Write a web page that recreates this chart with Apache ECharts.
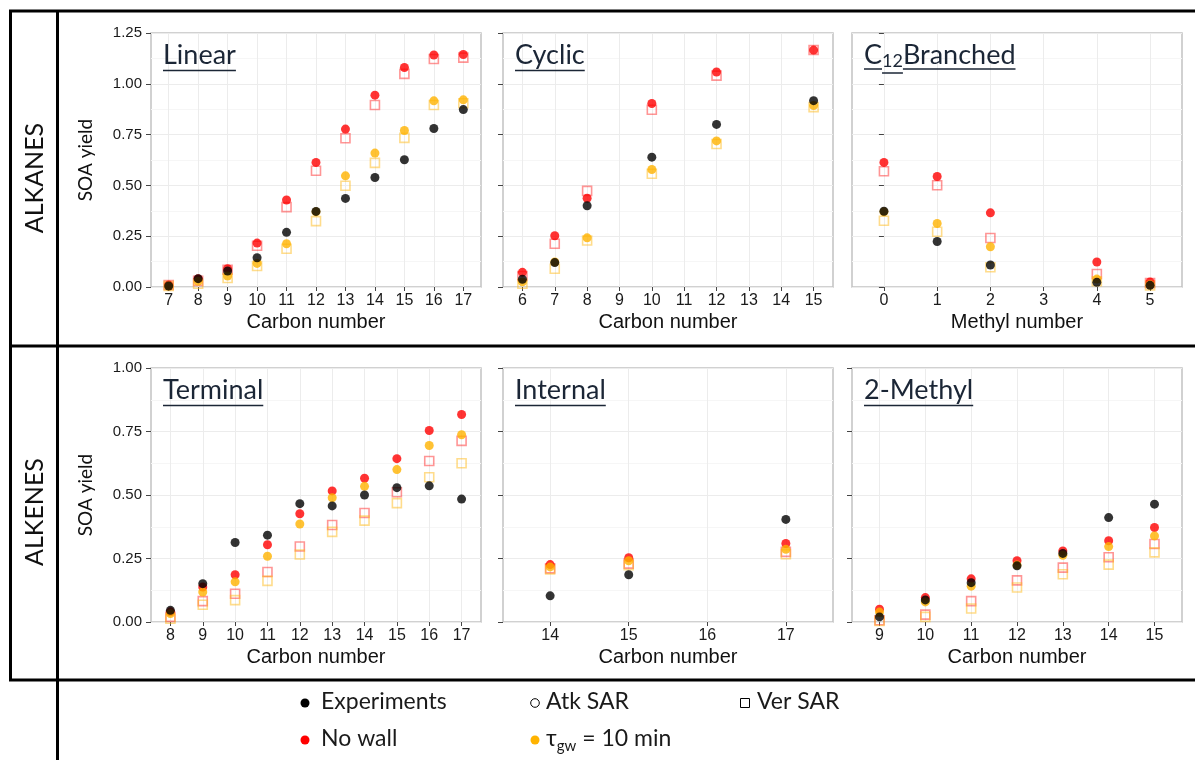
<!DOCTYPE html>
<html><head><meta charset="utf-8">
<script src="https://cdn.jsdelivr.net/npm/echarts@6/dist/echarts.min.js"></script>
<style>html,body{margin:0;padding:0;background:#fff}#c{width:1195px;height:760px}</style>
</head><body><div id="c"></div>
<script>
// ---------- tick labels ----------
const linearTicks   = [7, 8, 9, 10, 11, 12, 13, 14, 15, 16, 17];
const cyclicTicks   = [6, 7, 8, 9, 10, 11, 12, 13, 14, 15];
const branchedTicks = [0, 1, 2, 3, 4, 5];
const terminalTicks = [8, 9, 10, 11, 12, 13, 14, 15, 16, 17];
const internalTicks = [14, 15, 16, 17];
const methylTicks   = [9, 10, 11, 12, 13, 14, 15];
const alkaneYMax = 1.25;
const alkeneYMax = 1.00;
const yStep = 0.25;

// ---------- ALKANES: Linear ----------
const linearX          = [7, 8, 9, 10, 11, 12, 13, 14, 15, 16, 17];
const linearExp        = [0.005, 0.041, 0.079, 0.144, 0.269, 0.372, 0.436, 0.539, 0.626, 0.780, 0.873];
const linearNoWallAtk  = [0.010, 0.040, 0.090, 0.216, 0.428, 0.613, 0.777, 0.944, 1.080, 1.142, 1.144];
const linearNoWallVer  = [0.010, 0.030, 0.085, 0.203, 0.393, 0.572, 0.732, 0.896, 1.049, 1.122, 1.129];
const linearTauAtk     = [0.005, 0.028, 0.054, 0.116, 0.213, 0.370, 0.547, 0.659, 0.770, 0.916, 0.921];
const linearTauVer     = [0.005, 0.016, 0.044, 0.103, 0.188, 0.324, 0.498, 0.611, 0.734, 0.896, 0.904];

// ---------- ALKANES: Cyclic ----------
const cyclicX          = [6, 7, 8, 10, 12, 15];
const cyclicExp        = [0.038, 0.120, 0.400, 0.639, 0.800, 0.917];
const cyclicNoWallAtk  = [0.072, 0.252, 0.437, 0.903, 1.058, 1.166];
const cyclicNoWallVer  = [0.054, 0.213, 0.473, 0.872, 1.040, 1.166];
const cyclicTauAtk     = [0.025, 0.123, 0.242, 0.578, 0.719, 0.893];
const cyclicTauVer     = [0.016, 0.090, 0.229, 0.557, 0.704, 0.885];

// ---------- ALKANES: C12 Branched ----------
const branchedX         = [0, 1, 2, 4, 5];
const branchedExp       = [0.373, 0.224, 0.108, 0.023, 0.008];
const branchedNoWallAtk = [0.613, 0.544, 0.365, 0.123, 0.025];
const branchedNoWallVer = [0.570, 0.501, 0.241, 0.064, 0.020];
const branchedTauAtk    = [0.370, 0.313, 0.198, 0.039, 0.011];
const branchedTauVer    = [0.326, 0.272, 0.097, 0.028, 0.008];

// ---------- ALKENES: Terminal ----------
const terminalX         = [8, 9, 10, 11, 12, 13, 14, 15, 16, 17];
const terminalExp       = [0.046, 0.151, 0.313, 0.342, 0.466, 0.457, 0.500, 0.529, 0.536, 0.484];
const terminalNoWallAtk = [0.040, 0.138, 0.186, 0.304, 0.426, 0.516, 0.566, 0.643, 0.754, 0.817];
const terminalNoWallVer = [0.020, 0.082, 0.111, 0.197, 0.297, 0.382, 0.429, 0.511, 0.634, 0.713];
const terminalTauAtk    = [0.033, 0.118, 0.158, 0.259, 0.386, 0.489, 0.534, 0.600, 0.695, 0.737];
const terminalTauVer    = [0.013, 0.068, 0.086, 0.162, 0.266, 0.355, 0.399, 0.468, 0.570, 0.625];

// ---------- ALKENES: Internal ----------
const internalX         = [14, 15, 17];
const internalExp       = [0.103, 0.186, 0.404];
const internalNoWallAtk = [0.226, 0.253, 0.309];
const internalNoWallVer = [0.211, 0.230, 0.276];
const internalTauAtk    = [0.217, 0.241, 0.286];
const internalTauVer    = [0.207, 0.224, 0.267];

// ---------- ALKENES: 2-Methyl ----------
const methylX           = [9, 10, 11, 12, 13, 14, 15];
const methylExp         = [0.020, 0.087, 0.155, 0.221, 0.270, 0.411, 0.464];
const methylNoWallAtk   = [0.050, 0.096, 0.170, 0.241, 0.280, 0.320, 0.372];
const methylNoWallVer   = [0.007, 0.029, 0.082, 0.164, 0.214, 0.255, 0.307];
const methylTauAtk      = [0.039, 0.079, 0.141, 0.224, 0.263, 0.297, 0.339];
const methylTauVer      = [0.004, 0.020, 0.053, 0.136, 0.188, 0.226, 0.274];

// ---------- panels ----------
const panels = [
  {title: 'Linear',   ticks: linearTicks,   x: linearX,   exp: linearExp,   nwA: linearNoWallAtk,   nwV: linearNoWallVer,   tA: linearTauAtk,   tV: linearTauVer,   row: 0, col: 0, xname: 'Carbon number'},
  {title: 'Cyclic',   ticks: cyclicTicks,   x: cyclicX,   exp: cyclicExp,   nwA: cyclicNoWallAtk,   nwV: cyclicNoWallVer,   tA: cyclicTauAtk,   tV: cyclicTauVer,   row: 0, col: 1, xname: 'Carbon number'},
  {title: 'C|12|Branched', ticks: branchedTicks, x: branchedX, exp: branchedExp, nwA: branchedNoWallAtk, nwV: branchedNoWallVer, tA: branchedTauAtk, tV: branchedTauVer, row: 0, col: 2, xname: 'Methyl number'},
  {title: 'Terminal', ticks: terminalTicks, x: terminalX, exp: terminalExp, nwA: terminalNoWallAtk, nwV: terminalNoWallVer, tA: terminalTauAtk, tV: terminalTauVer, row: 1, col: 0, xname: 'Carbon number'},
  {title: 'Internal', ticks: internalTicks, x: internalX, exp: internalExp, nwA: internalNoWallAtk, nwV: internalNoWallVer, tA: internalTauAtk, tV: internalTauVer, row: 1, col: 1, xname: 'Carbon number'},
  {title: '2-Methyl', ticks: methylTicks,   x: methylX,   exp: methylExp,   nwA: methylNoWallAtk,   nwV: methylNoWallVer,   tA: methylTauAtk,   tV: methylTauVer,   row: 1, col: 2, xname: 'Carbon number'}
];

const colLeft = [151, 503, 852];
const colWidth = 330;
const rowTop = [33, 368];
const rowHeight = 254;
const rowMax = [alkaneYMax, alkeneYMax];

const RED = '#ff0000', ORANGE = '#ffb300', BLACK = '#000000';
const RED_SQ = 'rgba(255,40,40,0.62)', ORANGE_SQ = 'rgba(255,185,20,0.62)';
const TITLE_COLOR = '#1b2636';
const AX_FONT = '"Liberation Sans", Arial, sans-serif';
const CAL_FONT = 'Lato, "Open Sans", sans-serif';

const grids = [], xAxes = [], yAxes = [], series = [];
function pts(xs, ys) { return xs.map((x, i) => [x, ys[i]]); }

panels.forEach((p, i) => {
  grids.push({left: colLeft[p.col], top: rowTop[p.row], width: colWidth, height: rowHeight,
    show: true, borderColor: '#c2c2c2', borderWidth: 1.5, backgroundColor: '#fff', containLabel: false});
  const t = p.ticks;
  xAxes.push({type: 'value', gridIndex: i, min: t[0] - 0.6, max: t[t.length - 1] + 0.6,
    axisLine: {show: false},
    axisTick: {show: true, length: 4, customValues: t, lineStyle: {color: '#444', width: 1}},
    axisLabel: {show: true, customValues: t, margin: 6, fontSize: 16, color: '#1a1a1a', fontFamily: AX_FONT},
    splitLine: {show: true, lineStyle: {color: '#ececec', width: 1}},
    name: p.xname, nameLocation: 'middle', nameGap: 25,
    nameTextStyle: {fontSize: 20, color: '#111', fontFamily: AX_FONT}
  });
  yAxes.push({type: 'value', gridIndex: i, min: 0, max: rowMax[p.row], interval: yStep,
    axisLine: {show: false},
    axisTick: {show: true, length: 5, lineStyle: {color: '#444', width: 1}},
    axisLabel: {show: p.col === 0, margin: 9, fontSize: 15, color: '#1a1a1a', fontFamily: AX_FONT,
      formatter: v => v.toFixed(2)},
    splitLine: {show: true, lineStyle: {color: '#ececec', width: 1}},
    minorTick: {show: false, splitNumber: 2},
    minorSplitLine: {show: true, lineStyle: {color: '#f6f6f6', width: 1}}
  });
  const base = {type: 'scatter', xAxisIndex: i, yAxisIndex: i, silent: true};
  series.push(Object.assign({}, base, {name: 'No wall Ver SAR', symbol: 'rect', symbolSize: 9, data: pts(p.x, p.nwV),
    itemStyle: {color: 'rgba(255,255,255,0)', borderColor: RED_SQ, borderWidth: 1.6}}));
  series.push(Object.assign({}, base, {name: 'tau Ver SAR', symbol: 'rect', symbolSize: 9, data: pts(p.x, p.tV),
    itemStyle: {color: 'rgba(255,255,255,0)', borderColor: ORANGE_SQ, borderWidth: 1.6}}));
  series.push(Object.assign({}, base, {name: 'No wall', symbol: 'circle', symbolSize: 9, data: pts(p.x, p.nwA),
    itemStyle: {color: RED}}));
  series.push(Object.assign({}, base, {name: 'tau', symbol: 'circle', symbolSize: 9, data: pts(p.x, p.tA),
    itemStyle: {color: ORANGE}}));
  series.push(Object.assign({}, base, {name: 'Experiments', symbol: 'circle', symbolSize: 9, data: pts(p.x, p.exp),
    itemStyle: {color: BLACK}}));
});

// ---------- text measurement ----------
const mctx = document.createElement('canvas').getContext('2d');
function tw(text, size, fam) { mctx.font = size + 'px ' + fam; return mctx.measureText(text).width; }

const graphics = [];
function txt(x, y, s, font, fill, extra) {
  graphics.push(Object.assign({type: 'text', x: x, y: y, z: 100,
    style: {text: s, font: font, fill: fill, stroke: null, lineWidth: 0, verticalAlign: 'middle'}, silent: true}, extra || {}));
}
function seg(x1, y1, x2, y2, col, w) {
  graphics.push({type: 'line', z: 100, shape: {x1: x1, y1: y1, x2: x2, y2: y2}, style: {stroke: col, lineWidth: w}, silent: true});
}
// frame lines
hline = (x1, x2, y) => seg(x1, y, x2, y, '#000', 3);
vline = (x, y1, y2) => seg(x, y1, x, y2, '#000', 3);
hline(9, 1195, 11);
hline(9, 1195, 346);
hline(9, 1195, 680);
vline(10.5, 10, 681);
vline(57.5, 10, 760);

// row labels
const rowLabels = ['ALKANES', 'ALKENES'];
rowLabels.forEach((s, r) => {
  const cy = rowTop[r] + rowHeight / 2 + (r === 0 ? 18 : 17);
  graphics.push({type: 'text', x: 35, y: cy, rotation: Math.PI / 2, z: 100,
    style: {text: s, font: '25px ' + CAL_FONT, fill: '#111', align: 'center', verticalAlign: 'middle'}, silent: true});
  graphics.push({type: 'text', x: 86, y: rowTop[r] + rowHeight / 2, rotation: Math.PI / 2, z: 100,
    style: {text: 'SOA yield', font: '19px ' + CAL_FONT, fill: '#111', align: 'center', verticalAlign: 'middle'}, silent: true});
});

// panel titles (underlined)
const TSIZE = 27;
const TFONT = TSIZE + 'px ' + CAL_FONT;
panels.forEach(p => {
  const x = colLeft[p.col] + 12;
  const ym = rowTop[p.row] + 22;
  const uy = rowTop[p.row] + 37.5;
  const parts = p.title.split('|');
  if (parts.length === 1) {
    const w = tw(parts[0], TSIZE, CAL_FONT);
    txt(x, ym, parts[0], TFONT, TITLE_COLOR);
    seg(x, uy, x + w, uy, TITLE_COLOR, 1.5);
  } else {
    const w1 = tw(parts[0], TSIZE, CAL_FONT);
    const w2 = tw(parts[1], 18, CAL_FONT);
    const w3 = tw(parts[2], TSIZE, CAL_FONT);
    txt(x, ym, parts[0], TFONT, TITLE_COLOR);
    seg(x, uy - 1.5, x + w1, uy - 1.5, TITLE_COLOR, 1.5);
    txt(x + w1, ym + 6, parts[1], '18px ' + CAL_FONT, TITLE_COLOR);
    seg(x + w1, uy + 2.5, x + w1 + w2, uy + 2.5, TITLE_COLOR, 1.5);
    txt(x + w1 + w2, ym, parts[2], TFONT, TITLE_COLOR);
    seg(x + w1 + w2, uy - 1.5, x + w1 + w2 + w3, uy - 1.5, TITLE_COLOR, 1.5);
  }
});

// legend
const LFONT = '23px ' + CAL_FONT;
const LCOL = '#1a1a1a';
graphics.push({type: 'circle', z: 100, shape: {cx: 305, cy: 703, r: 4.5}, style: {fill: BLACK}, silent: true});
txt(321, 702, 'Experiments', LFONT, LCOL);
graphics.push({type: 'circle', z: 100, shape: {cx: 535, cy: 703, r: 4.3}, style: {fill: '#fff', stroke: '#000', lineWidth: 1}, silent: true});
txt(546, 702, 'Atk SAR', LFONT, LCOL);
graphics.push({type: 'rect', z: 100, shape: {x: 740.5, y: 698.5, width: 9, height: 9}, style: {fill: '#fff', stroke: '#000', lineWidth: 1}, silent: true});
txt(757, 702, 'Ver SAR', LFONT, LCOL);
graphics.push({type: 'circle', z: 100, shape: {cx: 305, cy: 740, r: 4.5}, style: {fill: RED}, silent: true});
txt(321, 739, 'No wall', LFONT, LCOL);
graphics.push({type: 'circle', z: 100, shape: {cx: 535, cy: 740, r: 4.5}, style: {fill: ORANGE}, silent: true});
const tauW = tw('τ', 23, CAL_FONT);
txt(546, 739, 'τ', LFONT, LCOL);
txt(546 + tauW, 746, 'gw', '15px ' + CAL_FONT, LCOL);
const gwW = tw('gw', 15, CAL_FONT);
txt(546 + tauW + gwW, 739, ' = 10 min', LFONT, LCOL);

const chart = echarts.init(document.getElementById('c'), null, {renderer: 'canvas'});
chart.setOption({
  animation: false,
  backgroundColor: '#fff',
  grid: grids,
  xAxis: xAxes,
  yAxis: yAxes,
  series: series,
  graphic: graphics
});
</script>
</body></html>
